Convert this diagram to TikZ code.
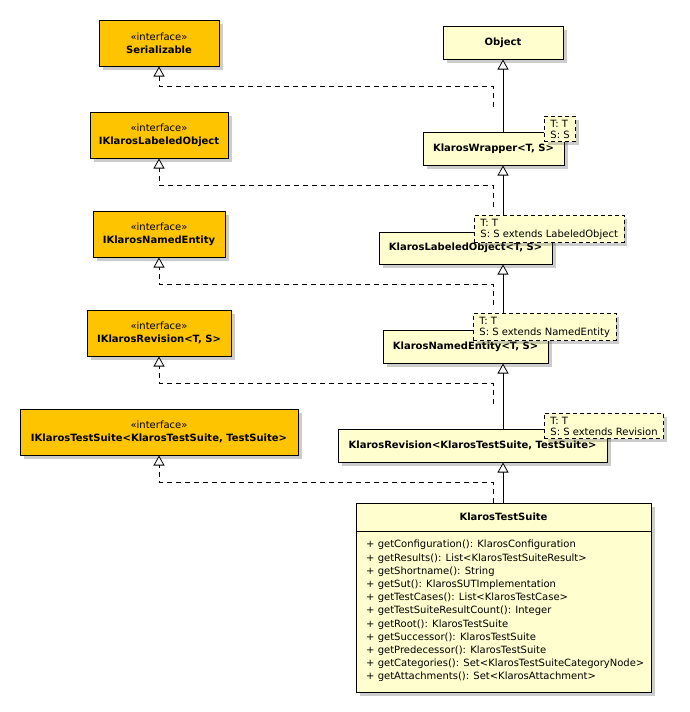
\documentclass[tikz,border=0pt]{standalone}
\usepackage{fontspec}
\setmainfont{DejaVu Sans}
\usetikzlibrary{positioning,arrows.meta,calc,shadows}
\definecolor{ifacebg}{HTML}{FFC400}
\definecolor{classbg}{HTML}{FEFECE}
\definecolor{shade}{HTML}{555555}

\begin{document}
\begin{tikzpicture}[
    x=1pt, y=-1pt,
    shadowed/.style={drop shadow={shadow xshift=3.5pt, shadow yshift=-3.5pt, opacity=0.3, fill=shade}},
    iface/.style={draw=black, line width=1pt, fill=ifacebg, shadowed, minimum height=46pt, align=center, font=\fontsize{10}{13}\selectfont, inner sep=0pt},
    cls/.style={draw=black, line width=1pt, fill=classbg, shadowed, minimum height=33pt, align=center, font=\fontsize{10}{12}\selectfont\bfseries, inner sep=0pt},
    note/.style={draw=black, dash pattern=on 4pt off 3pt, line width=0.8pt, fill=classbg, shadowed, align=left, anchor=north west, font=\fontsize{10}{11}\selectfont, inner xsep=6pt, inner ysep=3.5pt},
    gen/.style={-{Triangle[length=10pt, width=11pt, fill=white]}, line width=0.8pt},
    realize/.style={gen, dash pattern=on 5pt off 4pt}
]
    \useasboundingbox (0,0) rectangle (689,712);

    \node[iface, minimum width=120pt] (ser) at (159,43) {«interface»\\\textbf{Serializable}};
    \node[iface, minimum width=138pt] (ilo) at (159,135) {«interface»\\\textbf{IKlarosLabeledObject}};
    \node[iface, minimum width=132pt] (ine) at (159,234) {«interface»\\\textbf{IKlarosNamedEntity}};
    \node[iface, minimum width=144pt] (irev) at (159,333) {«interface»\\\textbf{IKlarosRevision<T, S>}};
    \node[iface, minimum width=278pt] (its) at (159,432) {«interface»\\\textbf{IKlarosTestSuite<KlarosTestSuite, TestSuite>}};

    \node[cls, minimum width=120pt] (obj) at (503,42.5) {Object};
    \node[cls, minimum width=141pt] (wrap) at (493.5,148.5) {KlarosWrapper<T, S>};
    \node[cls, minimum width=173pt, minimum height=32pt] (lobj) at (465.5,248) {KlarosLabeledObject<T, S>};
    \node[cls, minimum width=165pt] (nent) at (465.5,346.5) {KlarosNamedEntity<T, S>};
    \node[cls, minimum width=269pt] (rev) at (472.5,445.5) {KlarosRevision<KlarosTestSuite, TestSuite>};
    \node[cls, minimum width=295pt, minimum height=189pt] (suite) at (503.5,597.5) {};
    \node[font=\fontsize{10}{12}\selectfont\bfseries] (suiteT) at ($(suite.north)+(0,14.5)$) {KlarosTestSuite};
    \draw[line width=0.8pt] ($(suite.north west)+(0,29)$) -- ($(suite.north east)+(0,29)$);
    \node[anchor=north west, align=left, inner sep=0pt, font=\fontsize{10}{13.2}\selectfont] (suiteM) at (366,540) {%
        + getConfiguration(): KlarosConfiguration\\
        + getResults(): List<KlarosTestSuiteResult>\\
        + getShortname(): String\\
        + getSut(): KlarosSUTImplementation\\
        + getTestCases(): List<KlarosTestCase>\\
        + getTestSuiteResultCount(): Integer\\
        + getRoot(): KlarosTestSuite\\
        + getSuccessor(): KlarosTestSuite\\
        + getPredecessor(): KlarosTestSuite\\
        + getCategories(): Set<KlarosTestSuiteCategoryNode>\\
        + getAttachments(): Set<KlarosAttachment>};

    \coordinate (wrapR) at (493,107);
    \coordinate (lobjR) at (493,207);
    \coordinate (nentR) at (493,305);
    \coordinate (revR) at (493,404);
    \coordinate (suiteR) at (493,503);

    \draw[realize] (wrapR) |- (159,86) -- (ser.south);
    \draw[realize] (lobjR) |- (159,185) -- (ilo.south);
    \draw[realize] (nentR) |- (159,284) -- (ine.south);
    \draw[realize] (revR) |- (159,383) -- (irev.south);
    \draw[realize] (suiteR) |- (159,482) -- (its.south);

    \draw[gen] (wrap.north -| obj) -- (obj.south);
    \draw[gen] (lobj.north -| obj) -- (wrap.south -| obj);
    \draw[gen] (nent.north -| obj) -- (lobj.south -| obj);
    \draw[gen] (rev.north -| obj) -- (nent.south -| obj);
    \draw[gen] (suite.north -| obj) -- (rev.south -| obj);

    \node[note] (n1) at (544,116) {T: T\\S: S};
    \node[note] (n2) at (474,215) {T: T\\S: S extends LabeledObject};
    \node[note] (n3) at (473,313) {T: T\\S: S extends NamedEntity};
    \node[note] (n4) at (544,413) {T: T\\S: S extends Revision};
\end{tikzpicture}
\end{document}
